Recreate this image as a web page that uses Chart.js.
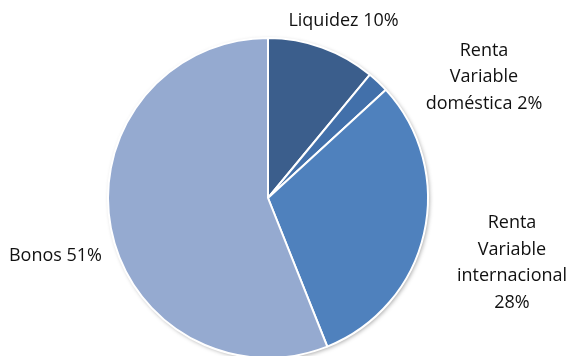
<!DOCTYPE html>
<html>
<head>
<meta charset="utf-8">
<script src="https://cdn.jsdelivr.net/npm/chart.js@4.4.1/dist/chart.umd.min.js"></script>
<style>
  html, body { margin: 0; padding: 0; background: #fff; overflow: hidden; }
  #wrap { width: 566px; height: 356px; position: relative; }
</style>
</head>
<body>
<div id="wrap"><canvas id="pie"></canvas></div>
<script>
// portfolio split
const categories = ["Liquidez", "Renta Variable doméstica", "Renta Variable internacional", "Bonos"]
const shares = [10, 2, 28, 51]
const sliceColors = ["#3B5E8C", "#4270AA", "#4F81BD", "#95AAD0"]

// how each label is broken into lines, the percentage goes on the last line
// unless ownLine is set
const labelLayout = [
    { words: ["Liquidez"], ownLine: false, dx: 0.472, dy: -1.075, align: "center" },
    { words: ["Renta", "Variable", "doméstica"], ownLine: false, dx: 1.35, dy: -0.889, align: "center" },
    { words: ["Renta", "Variable", "internacional"], ownLine: true, dx: 1.525, dy: 0.1875, align: "center" },
    { words: ["Bonos"], ownLine: false, dx: -1.0375, dy: 0.394, align: "right" }
]
const LINE_H = 26.5
const FONT = "18px 'Open Sans', Lato, sans-serif"

function labelLines(i) {
    const l = labelLayout[i]
    const pct = shares[i] + "%"
    const lines = l.words.slice()
    if (l.ownLine) lines.push(pct)
    else lines[lines.length - 1] += " " + pct
    return lines
}

// soft drop shadow under the whole pie
const pieShadow = {
    id: "pieShadow",
    beforeDatasetsDraw(chart) {
        const arc = chart.getDatasetMeta(0).data[0]
        if (!arc) return
        const ctx = chart.ctx
        ctx.save()
        ctx.shadowColor = "rgba(0,0,0,0.35)"
        ctx.shadowBlur = 4
        ctx.shadowOffsetX = 1.5
        ctx.shadowOffsetY = 1.5
        ctx.fillStyle = "#fff"
        ctx.beginPath()
        ctx.arc(arc.x, arc.y, arc.outerRadius, 0, Math.PI * 2)
        ctx.fill()
        ctx.restore()
    }
}

// category labels placed around the pie
const sliceLabels = {
    id: "sliceLabels",
    afterDatasetsDraw(chart) {
        const meta = chart.getDatasetMeta(0)
        const arc = meta.data[0]
        if (!arc) return
        const ctx = chart.ctx
        const r = arc.outerRadius
        ctx.save()
        ctx.font = FONT
        ctx.fillStyle = "#111"
        ctx.textBaseline = "alphabetic"
        labelLayout.forEach((l, i) => {
            ctx.textAlign = l.align
            const x = arc.x + l.dx * r
            let y = arc.y + l.dy * r
            labelLines(i).forEach(line => {
                ctx.fillText(line, x, y)
                y += LINE_H
            })
        })
        ctx.restore()
    }
}

new Chart(document.getElementById("pie"), {
    type: "pie",
    data: {
        labels: categories,
        datasets: [{
            data: shares,
            backgroundColor: sliceColors,
            borderColor: "#fff",
            borderWidth: 2,
            radius: 160,
            clip: false
        }]
    },
    options: {
        responsive: true,
        maintainAspectRatio: false,
        animation: false,
        layout: { padding: { left: 0, right: 30, top: 40, bottom: 0 } },
        plugins: {
            legend: { display: false },
            tooltip: { enabled: false }
        }
    },
    plugins: [pieShadow, sliceLabels]
})
</script>
</body>
</html>
